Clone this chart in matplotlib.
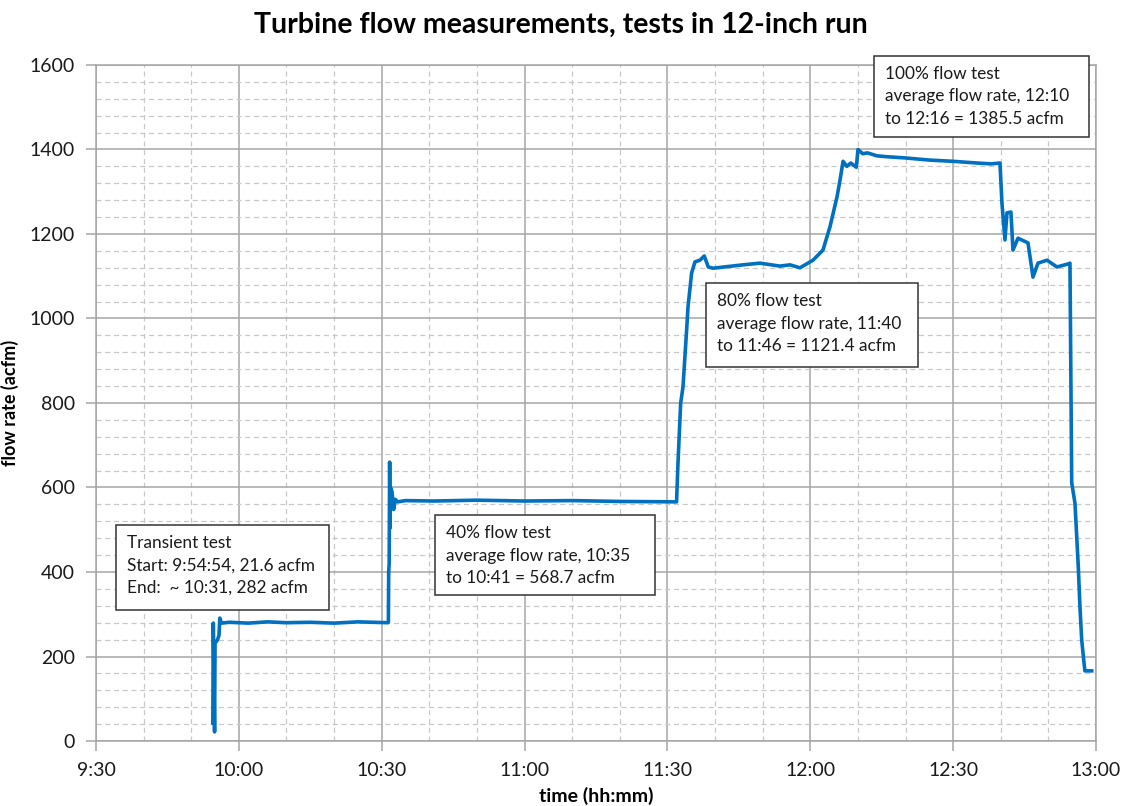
import matplotlib

matplotlib.use("Agg")
import matplotlib.pyplot as plt
from matplotlib.patches import Rectangle
from matplotlib.ticker import FuncFormatter, MultipleLocator

# turbine meter log, read at the turning points of the trace
TIMES = [
    "9:54:32", "9:54:38", "9:54:54", "9:55:00", "9:55:30", "9:55:50", "9:56:00", "9:56:20",
    "9:58:00", "10:02:00", "10:06:00", "10:10:00", "10:15:00", "10:20:00", "10:25:00", "10:31:20",
    "10:31:24", "10:31:28", "10:31:34", "10:31:40", "10:31:45", "10:31:50", "10:32:10", "10:32:30",
    "10:32:50", "10:33:20", "10:35:00", "10:41:00", "10:50:00", "11:00:00", "11:10:00", "11:20:00",
    "11:31:55", "11:32:13", "11:32:47", "11:33:16", "11:34:02", "11:34:19", "11:35:05", "11:35:47",
    "11:36:50", "11:37:44", "11:38:35", "11:39:34", "11:45:52", "11:49:26", "11:53:38", "11:55:44",
    "11:57:50", "12:00:34", "12:02:40", "12:04:08", "12:05:37", "12:06:15", "12:06:53", "12:07:40",
    "12:08:30", "12:09:40", "12:10:01", "12:11:00", "12:12:00", "12:14:00", "12:16:00", "12:20:00",
    "12:25:00", "12:30:00", "12:35:00", "12:38:00", "12:39:50", "12:40:15", "12:40:53", "12:41:18",
    "12:42:08", "12:42:34", "12:43:37", "12:45:43", "12:46:46", "12:47:49", "12:49:42", "12:51:48",
    "12:54:07", "12:54:32", "12:54:54", "12:55:35", "12:56:17", "12:56:38", "12:57:00", "12:57:29",
    "12:57:40", "12:59:06",
]
FLOW = [
    43, 279, 21.6, 232, 239, 250, 291, 279,
    281, 279, 282, 280, 281, 279, 282, 280,
    282, 400, 420, 660, 504, 600, 590, 548,
    572, 566, 569, 568, 570, 568, 569, 567,
    566, 658, 800, 838, 973, 1027, 1108, 1134,
    1138, 1148, 1122, 1119, 1127, 1131, 1124, 1127,
    1120, 1138, 1162, 1217, 1288, 1328, 1372, 1360,
    1368, 1358, 1400, 1390, 1392, 1385, 1383, 1380,
    1375, 1372, 1368, 1366, 1368, 1273, 1186, 1250,
    1252, 1162, 1190, 1179, 1098, 1131, 1138, 1122,
    1129, 1131, 611, 563, 412, 317, 239, 185,
    166, 166,
]

NOTES = [
    ["Transient test", "Start: 9:54:54, 21.6 acfm", "End:  ~ 10:31, 282 acfm"],
    ["40% flow test", "average flow rate, 10:35", "to 10:41 = 568.7 acfm"],
    ["80% flow test", "average flow rate, 11:40", "to 11:46 = 1121.4 acfm"],
    ["100% flow test", "average flow rate, 12:10", "to 12:16 = 1385.5 acfm"],
]
# box corners in pixels from the top-left of the figure
NOTE_BOXES = [(116, 525, 329, 610), (435, 515, 655, 595), (706, 283, 918, 367), (874, 56, 1089, 137)]

W, H = 1122, 806
FONT = ["Lato", "DejaVu Sans"]
BLUE = "#0070C0"
MAJOR = "#a6a6a6"
MINOR = "#c8c8c8"


def to_hours(s):
    parts = [int(p) for p in s.split(":")]
    return parts[0] + parts[1] / 60 + parts[2] / 3600


def hhmm(h, _pos):
    m = int(round(h * 60))
    return f"{m // 60}:{m % 60:02d}"


plt.rcParams["font.family"] = FONT
fig = plt.figure(figsize=(W / 100, H / 100), dpi=100)
ax = fig.add_axes([96 / W, 1 - 741 / H, 1000 / W, 676 / H])

ax.plot([to_hours(t) for t in TIMES], FLOW, color=BLUE, linewidth=2.6, solid_joinstyle="round")

ax.set_xlim(9.5, 13.0)
ax.set_ylim(0, 1600)
ax.xaxis.set_major_locator(MultipleLocator(0.5))
ax.xaxis.set_minor_locator(MultipleLocator(1 / 6))
ax.xaxis.set_major_formatter(FuncFormatter(hhmm))
ax.yaxis.set_major_locator(MultipleLocator(200))
ax.yaxis.set_minor_locator(MultipleLocator(40))

ax.grid(which="major", color=MAJOR, linewidth=1.1)
ax.grid(which="minor", color=MINOR, linewidth=0.9, linestyle=(0, (4, 3)))
ax.set_axisbelow(True)
for sp in ax.spines.values():
    sp.set_color(MAJOR)
    sp.set_linewidth(1.1)
ax.tick_params(which="major", length=7, width=1.1, color=MAJOR, labelsize=14,
               labelcolor="#1a1a1a", pad=8)
ax.tick_params(which="minor", length=0)

ax.set_xlabel("time (hh:mm)", fontsize=14, fontweight="bold", labelpad=6)
ax.set_ylabel("flow rate (acfm)", fontsize=13, fontweight="bold")
ax.yaxis.set_label_coords(-(96 - 19) / 1000, 0.5)
fig.text(0.5, 1 - 25 / H, "Turbine flow measurements, tests in 12-inch run",
         ha="center", va="center", fontsize=20.5, fontweight="bold")

for (x0, y0, x1, y1), lines in zip(NOTE_BOXES, NOTES):
    fig.add_artist(Rectangle((x0 / W, 1 - y1 / H), (x1 - x0) / W, (y1 - y0) / H,
                             transform=fig.transFigure, facecolor="white",
                             edgecolor="#333333", linewidth=1.1, zorder=5))
    for i, line in enumerate(lines):
        fig.text((x0 + 11) / W, 1 - (y0 + 18 + 22.5 * i) / H, line,
                 ha="left", va="center", fontsize=12.4, color="#1a1a1a", zorder=6)

fig.savefig("out.png", dpi=100)
